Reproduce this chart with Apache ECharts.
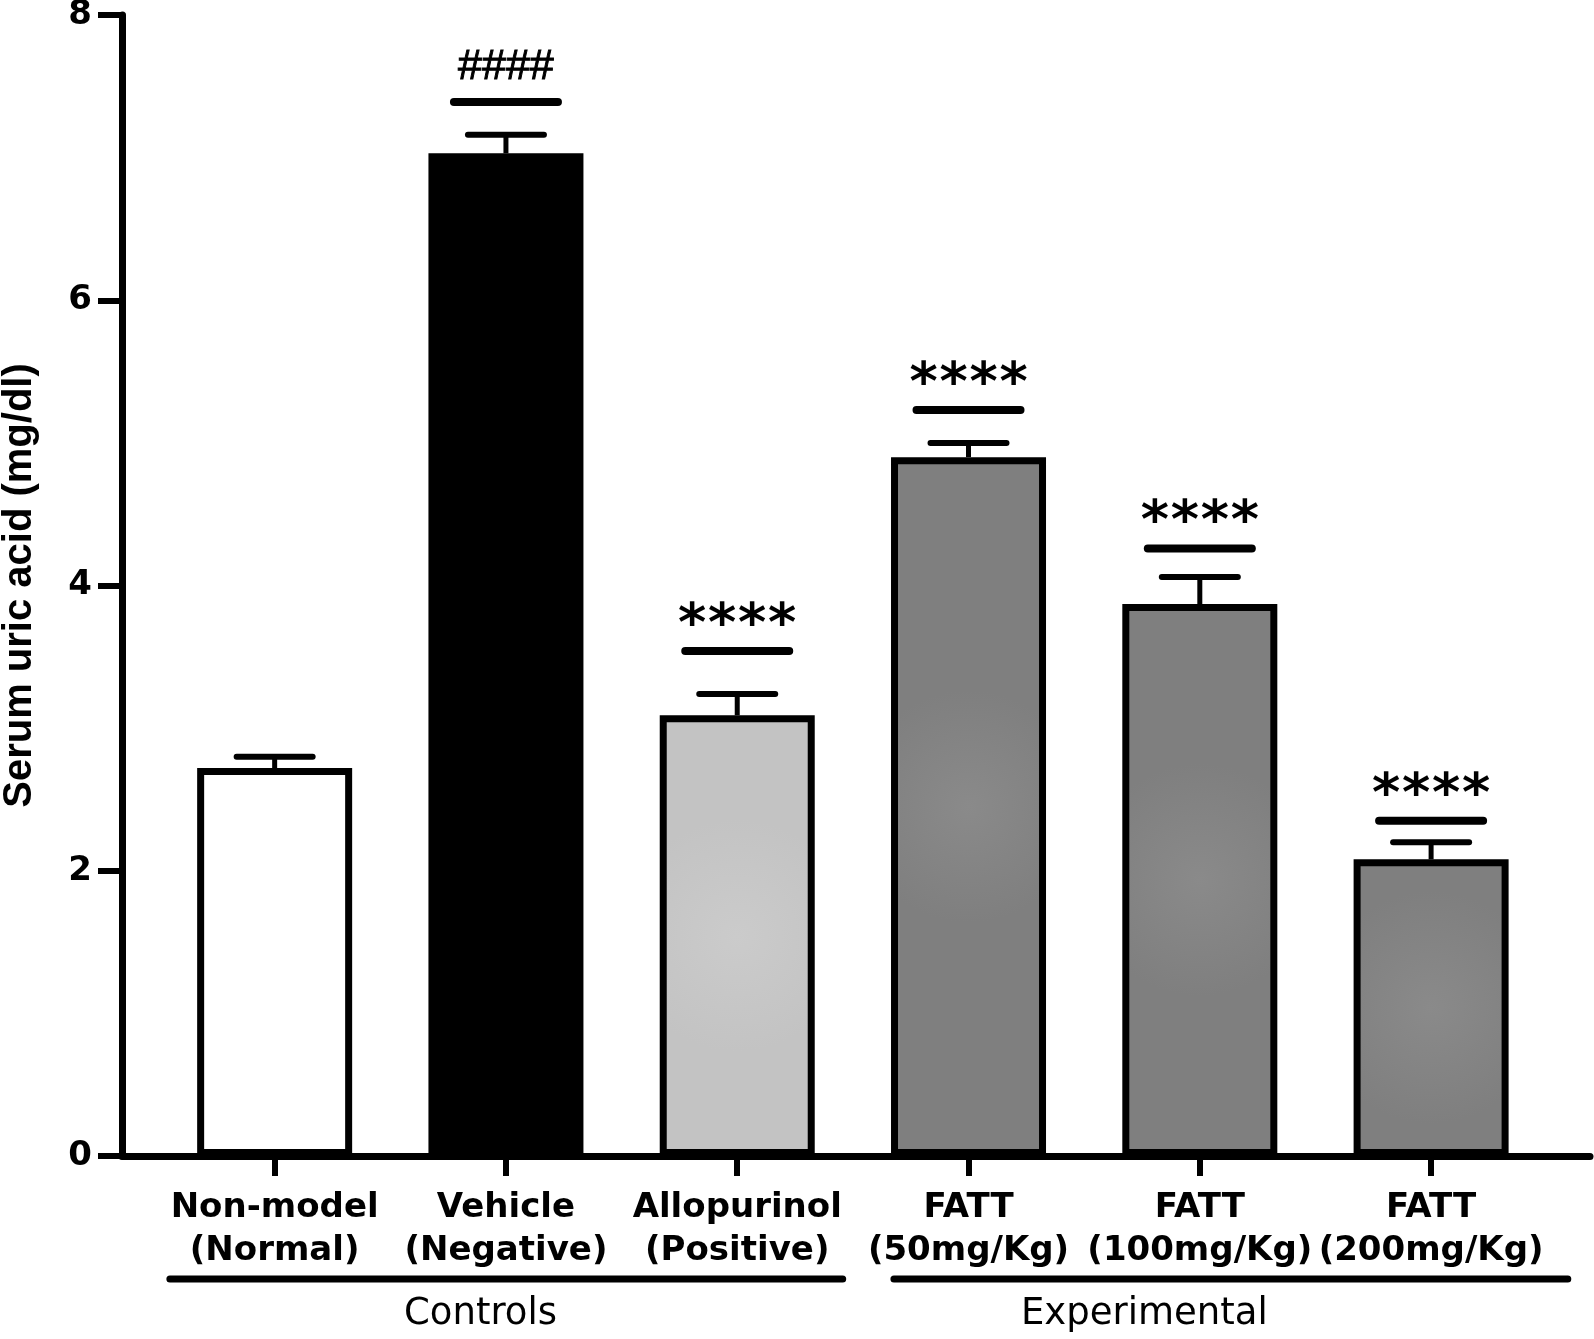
<!DOCTYPE html>
<html>
<head>
<meta charset="utf-8">
<script src="https://cdn.jsdelivr.net/npm/echarts@6/dist/echarts.min.js"></script>
<style>
html,body{margin:0;padding:0;background:#fff;}
#chart{width:1594px;height:1339px;}
</style>
</head>
<body>
<div id="chart"></div>
<script>
// ---- data ----
const categories = ['Non-model\n(Normal)', 'Vehicle\n(Negative)', 'Allopurinol\n(Positive)', 'FATT\n(50mg/Kg)', 'FATT\n(100mg/Kg)', 'FATT\n(200mg/Kg)'];
const means = [2.72, 7.03, 3.09, 4.90, 3.87, 2.08];
const errUpper = [2.80, 7.16, 3.24, 5.00, 4.06, 2.20];
const sigIndex = [1, 2, 3, 4, 5];
const sigLevel = [7.39, 3.54, 5.23, 4.26, 2.35];
const sigMark = ['####', '****', '****', '****', '****'];
const groupNames = ['Controls', 'Experimental'];
const groupFrom = [0, 3];
const groupTo = [2, 5];
const yTitle = 'Serum uric acid (mg/dl)';

// ---- styles ----
const barFills = [
  '#ffffff',
  '#000000',
  {type:'radial', x:0.5, y:0.5, r:0.75, colorStops:[{offset:0,color:'#cbcbcb'},{offset:1,color:'#c3c3c3'}]},
  {type:'radial', x:0.5, y:0.5, r:0.75, colorStops:[{offset:0,color:'#8a8a8a'},{offset:1,color:'#7f7f7f'}]},
  {type:'radial', x:0.5, y:0.5, r:0.75, colorStops:[{offset:0,color:'#8a8a8a'},{offset:1,color:'#7f7f7f'}]},
  {type:'radial', x:0.5, y:0.5, r:0.75, colorStops:[{offset:0,color:'#8a8a8a'},{offset:1,color:'#7f7f7f'}]}
];
const groupStyle = [
  {padL:0.453, padR:0.456, labelAt:0.89},
  {padL:0.3225, padR:0.591, labelAt:3.76}
];
const BOLD = {fontFamily:'DejaVu Sans', fontWeight:'bold', color:'#000'};

const idx = categories.map((_, i) => i);

const chart = echarts.init(document.getElementById('chart'));
chart.setOption({
  animation: false,
  backgroundColor: '#fff',
  grid: {left:122, right:4, top:15, bottom:183, containLabel:false, outerBoundsMode:'none'},
  xAxis: {
    type:'value', min:-0.66, max:5.687,
    splitLine:{show:false},
    axisLine:{show:true, onZero:false, lineStyle:{color:'#000', width:7}},
    axisTick:{show:true, customValues:idx, length:20, lineStyle:{color:'#000', width:6}},
    axisLabel:{customValues:idx, formatter:v => categories[Math.round(v)], margin:31,
      fontSize:34, lineHeight:43, align:'center', ...BOLD}
  },
  yAxis: {
    type:'value', min:0, max:8, interval:2,
    splitLine:{show:false},
    axisLine:{show:true, onZero:false, lineStyle:{color:'#000', width:7}},
    axisTick:{show:true, length:24, lineStyle:{color:'#000', width:6}},
    axisLabel:{margin:30, fontSize:34, ...BOLD},
    name: yTitle, nameLocation:'middle', nameRotate:90, nameGap:82,
    nameTextStyle:{fontFamily:'Liberation Sans', fontWeight:'bold', fontSize:40, color:'#000'}
  },
  series: [
    {
      type:'bar', barWidth:155,
      data: means.map((m, i) => ({value:[i, m], itemStyle:{color:barFills[i], borderColor:'#000', borderWidth:7}})),
      z:2
    },
    {
      type:'custom', z:3,
      data: means.map((m, i) => [i, m, errUpper[i]]),
      encode:{x:0, y:[1,2]},
      renderItem: (params, api) => {
        const x = api.value(0);
        const p0 = api.coord([x, api.value(1)]);
        const p1 = api.coord([x, api.value(2)]);
        return {type:'group', children:[
          {type:'line', shape:{x1:p0[0], y1:p0[1], x2:p1[0], y2:p1[1]}, style:{stroke:'#000', lineWidth:5}},
          {type:'line', shape:{x1:p1[0]-38, y1:p1[1], x2:p1[0]+38, y2:p1[1]}, style:{stroke:'#000', lineWidth:6, lineCap:'round'}}
        ]};
      }
    },
    {
      type:'custom', z:3,
      data: sigIndex.map((c, k) => [c, sigLevel[k]]),
      encode:{x:0, y:1},
      renderItem: (params, api) => {
        const p = api.coord([api.value(0), api.value(1)]);
        const mark = sigMark[params.dataIndex];
        const isHash = mark.indexOf('#') >= 0;
        const txt = isHash
          ? {type:'text', style:{text:mark, x:p[0], y:p[1]-35, align:'center', verticalAlign:'middle',
              fontFamily:'Liberation Sans', fontSize:43, fill:'#000', stroke:'#000', lineWidth:1}}
          : {type:'text', style:{text:mark.split('').map(c => '{s|' + c + '}').join(''), x:p[0], y:p[1]-24,
              align:'center', verticalAlign:'middle',
              rich:{s:{width:30, align:'center', fontFamily:'DejaVu Sans', fontWeight:'bold', fontSize:54, fill:'#000'}}}};
        return {type:'group', children:[
          {type:'line', shape:{x1:p[0]-52, y1:p[1], x2:p[0]+52, y2:p[1]}, style:{stroke:'#000', lineWidth:8, lineCap:'round'}},
          txt
        ]};
      }
    },
    {
      type:'custom', z:3,
      data: groupNames.map((g, k) => [groupFrom[k], groupTo[k], 0]),
      encode:{x:[0,1], y:2},
      renderItem: (params, api) => {
        const k = params.dataIndex;
        const gs = groupStyle[k];
        const a = api.coord([api.value(0) - gs.padL, 0]);
        const b = api.coord([api.value(1) + gs.padR, 0]);
        const t = api.coord([gs.labelAt, 0]);
        return {type:'group', children:[
          {type:'line', shape:{x1:a[0], y1:a[1]+123, x2:b[0], y2:a[1]+123}, style:{stroke:'#000', lineWidth:7, lineCap:'round'}},
          {type:'text', style:{text:groupNames[k], x:t[0], y:a[1]+158, align:'center', verticalAlign:'middle',
            fontFamily:'DejaVu Sans', fontSize:37, fill:'#000'}}
        ]};
      }
    }
  ]
});
</script>
</body>
</html>
